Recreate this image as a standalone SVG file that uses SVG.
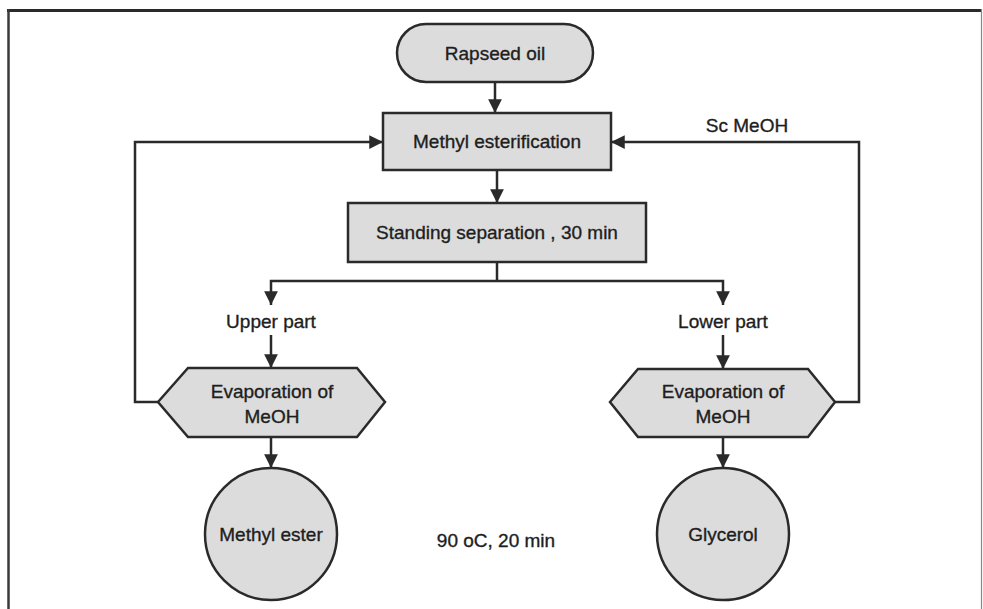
<svg xmlns="http://www.w3.org/2000/svg" width="983" height="609" viewBox="0 0 983 609">
<style>
.node{fill:#dcdcdc;stroke:#2a2a2a;stroke-width:2.5}
.lbl{font-family:"Liberation Sans",Arial,sans-serif;font-size:19px;fill:#1e1e1e;stroke:#1e1e1e;stroke-width:0.35;text-anchor:middle;dominant-baseline:central}
.con{fill:none;stroke:#2a2a2a;stroke-width:2.5}
</style>
<defs>
<marker id="ah" viewBox="0 0 10 10" refX="10" refY="5" markerWidth="5.5" markerHeight="5.5" orient="auto" markerUnits="strokeWidth">
<path d="M0,0 L10,5 L0,10 z" fill="#2a2a2a"/>
</marker>
</defs>
<rect x="0" y="0" width="983" height="609" fill="#ffffff"/>
<g id="frame">
<line x1="7" y1="10.5" x2="982" y2="10.5" stroke="#2a2a2a" stroke-width="3"/>
<line x1="8.5" y1="9" x2="8.5" y2="609" stroke="#3a3a3a" stroke-width="2.5"/>
<line x1="981.5" y1="9" x2="981.5" y2="609" stroke="#888" stroke-width="1.2"/>
</g>
<g id="connectors">
<line class="con" x1="495" y1="82" x2="495" y2="113" marker-end="url(#ah)"/>
<line class="con" x1="497" y1="170" x2="497" y2="203" marker-end="url(#ah)"/>
<polyline class="con" points="497,262 497,281"/>
<polyline class="con" points="497,281 271,281 271,305" marker-end="url(#ah)"/>
<polyline class="con" points="497,281 723,281 723,305" marker-end="url(#ah)"/>
<line class="con" x1="271" y1="335" x2="271" y2="368" marker-end="url(#ah)"/>
<line class="con" x1="723" y1="335" x2="723" y2="369" marker-end="url(#ah)"/>
<line class="con" x1="271" y1="437" x2="271" y2="468" marker-end="url(#ah)"/>
<line class="con" x1="723" y1="437" x2="723" y2="468" marker-end="url(#ah)"/>
<polyline class="con" points="158,402 135,402 135,142 383,142" marker-end="url(#ah)"/>
<polyline class="con" points="835,402 859,402 859,142 611,142" marker-end="url(#ah)"/>
<text class="lbl" x="271" y="321">Upper part</text>
<text class="lbl" x="723" y="321">Lower part</text>
<text class="lbl" x="747" y="125">Sc MeOH</text>
</g>
<g id="rapseed">
<rect class="node" x="397" y="24" width="196" height="58" rx="29" ry="29"/>
<text class="lbl" x="495" y="53">Rapseed oil</text>
</g>
<g id="esterification">
<rect class="node" x="383" y="113" width="228" height="57"/>
<text class="lbl" x="497" y="141">Methyl esterification</text>
</g>
<g id="separation">
<rect class="node" x="348" y="203" width="298" height="59"/>
<text class="lbl" x="497" y="232">Standing separation , 30 min</text>
</g>
<g id="evap-left">
<polygon class="node" points="158,402 188,368 357,368 385,402 357,437 188,437"/>
<text class="lbl" x="272" y="391">Evaporation of</text>
<text class="lbl" x="272" y="416">MeOH</text>
</g>
<g id="evap-right">
<polygon class="node" points="610,402 638,369 808,369 835,402 808,437 638,437"/>
<text class="lbl" x="723" y="391">Evaporation of</text>
<text class="lbl" x="723" y="416">MeOH</text>
</g>
<g id="methyl-ester">
<circle class="node" cx="271" cy="534" r="66"/>
<text class="lbl" x="271" y="534">Methyl ester</text>
</g>
<g id="glycerol">
<circle class="node" cx="723" cy="534" r="66"/>
<text class="lbl" x="723" y="534">Glycerol</text>
</g>
<g id="condition">
<text class="lbl" x="496" y="540">90 oC, 20 min</text>
</g>
</svg>
